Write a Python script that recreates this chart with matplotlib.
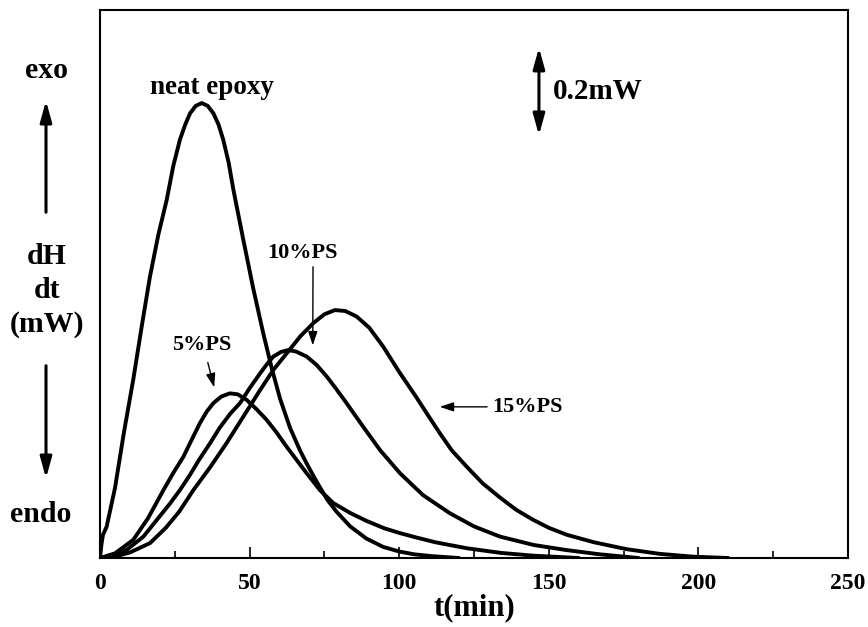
import matplotlib.pyplot as plt
from matplotlib.ticker import MultipleLocator

plt.rcParams['font.family'] = ['Liberation Serif', 'DejaVu Serif']
plt.rcParams['font.weight'] = 'bold'

# heat flow curves (t in min, dH/dt in mW)
t_neat = [0, 0.5, 1, 2.2, 5, 8, 11.1, 14, 16.7, 19.5, 22.3, 24.5, 26.7, 28.5, 30.1, 32, 34, 36,
          37.9, 39.6, 41.2, 43, 44.6, 47.9, 51.2, 54.6, 57.4, 60.2, 63.5, 66.8, 69, 71.3, 73.5,
          76, 79, 83.6, 89, 94.6, 100, 105, 111, 120]
y_neat = [0, 0.03, 0.05, 0.067, 0.15, 0.27, 0.383, 0.5, 0.605, 0.695, 0.77, 0.843, 0.899, 0.932,
          0.956, 0.972, 0.978, 0.972, 0.956, 0.932, 0.899, 0.85, 0.791, 0.684, 0.58, 0.482,
          0.408, 0.342, 0.28, 0.232, 0.204, 0.177, 0.152, 0.125, 0.1, 0.068, 0.042, 0.024,
          0.014, 0.008, 0.004, 0]

t_5 = [0, 5, 11.1, 16, 21.2, 24.5, 27.9, 30.7, 33.4, 35.7, 37.9, 40.5, 43.4, 46, 49, 52.3, 55.7,
       59, 62.4, 65.8, 69.1, 73.5, 78, 83.6, 89, 95, 100, 105.8, 112, 122.6, 134, 145, 160]
y_5 = [0, 0.01, 0.039, 0.085, 0.146, 0.183, 0.218, 0.255, 0.29, 0.315, 0.333, 0.347, 0.354,
       0.352, 0.34, 0.32, 0.297, 0.27, 0.239, 0.21, 0.182, 0.146, 0.118, 0.097, 0.08, 0.064,
       0.054, 0.044, 0.034, 0.021, 0.011, 0.005, 0]

t_10 = [0, 5, 9, 14.5, 20, 23.5, 26.7, 30, 33, 36.8, 40, 43.5, 46.8, 50, 53.5, 55.7, 57.9, 60.5,
        62.9, 65.5, 69.1, 72.4, 75.8, 79, 82.4, 86, 89.1, 93.6, 100.3, 108, 117, 125, 133.7,
        145, 156, 167, 180]
y_10 = [0, 0.005, 0.018, 0.046, 0.09, 0.118, 0.146, 0.178, 0.21, 0.247, 0.28, 0.31, 0.333,
        0.365, 0.397, 0.416, 0.433, 0.443, 0.447, 0.444, 0.433, 0.415, 0.39, 0.363, 0.333, 0.3,
        0.272, 0.232, 0.182, 0.135, 0.096, 0.068, 0.046, 0.028, 0.017, 0.008, 0]

t_15 = [0, 5, 10, 16.7, 22, 26.5, 31.2, 36.8, 42.3, 48, 53.5, 58, 62.4, 67, 71.3, 75, 78.5, 82,
        85.8, 90, 94.7, 100, 105.8, 109, 113.6, 117.5, 122.6, 128, 133.7, 139, 144.8, 150, 156,
        165, 176, 187, 198, 210]
y_15 = [0, 0.003, 0.012, 0.032, 0.065, 0.1, 0.146, 0.195, 0.247, 0.305, 0.361, 0.405, 0.44,
        0.477, 0.505, 0.524, 0.533, 0.531, 0.519, 0.495, 0.454, 0.4, 0.345, 0.313, 0.268, 0.232,
        0.196, 0.16, 0.13, 0.104, 0.082, 0.065, 0.05, 0.034, 0.019, 0.009, 0.003, 0]

xticks = [0, 50, 100, 150, 200, 250]

fig = plt.figure(figsize=(8.68, 6.27), dpi=100)
ax = fig.add_axes([0.1152, 0.110, 0.8618, 0.874])

for t, y in [(t_neat, y_neat), (t_5, y_5), (t_10, y_10), (t_15, y_15)]:
    ax.plot(t, y, color='black', lw=2.8, solid_joinstyle='round', solid_capstyle='round')

ax.set_xlim(0, 250)
ax.set_ylim(0, 1.178)
ax.set_xticks(xticks)
ax.xaxis.set_minor_locator(MultipleLocator(25))
ax.set_yticks([])
ax.tick_params(axis='x', which='major', direction='in', length=8, width=1.2, labelsize=17, pad=11)
ax.tick_params(axis='x', which='minor', direction='in', length=5, width=1.2)
for s in ax.spines.values():
    s.set_linewidth(1.5)
ax.set_xlabel('t(min)', fontsize=22, fontweight='bold', labelpad=-1)

thin = dict(arrowstyle='-|>,head_length=0.6,head_width=0.2', color='black', lw=1,
            mutation_scale=14)
thick = dict(arrowstyle='-|>,head_length=0.9,head_width=0.25', color='black', lw=2.2,
             mutation_scale=14)

# labels on curves
ax.text(37.4, 1.011, 'neat epoxy', ha='center', va='center', fontsize=19.5)
ax.text(67.8, 0.656, '10%PS', ha='center', va='center', fontsize=16)
ax.annotate('', xy=(71.1, 0.451), xytext=(71.2, 0.632), arrowprops=thin)
ax.text(34, 0.458, '5%PS', ha='center', va='center', fontsize=16)
ax.annotate('', xy=(38.4, 0.361), xytext=(35.8, 0.426), arrowprops=thin)
ax.text(131, 0.325, '15%PS', ha='left', va='center', fontsize=16)
ax.annotate('', xy=(112.6, 0.325), xytext=(130.3, 0.325), arrowprops=thin)

# 0.2 mW scale bar
ax.annotate('', xy=(146.7, 1.103), xytext=(146.7, 0.903),
            arrowprops=dict(arrowstyle='<|-|>,head_length=0.9,head_width=0.25', color='black',
                            lw=2.2, mutation_scale=14))
ax.text(151.5, 1.003, '0.2mW', ha='left', va='center', fontsize=21)

# y axis legend at the left
fig.text(47 / 868, 1 - 70 / 627, 'exo', ha='center', va='center', fontsize=21.5)
fig.text(47 / 868, 1 - 257 / 627, 'dH', ha='center', va='center', fontsize=21.5)
fig.text(47 / 868, 1 - 290 / 627, 'dt', ha='center', va='center', fontsize=21.5)
fig.text(47 / 868, 1 - 325 / 627, '(mW)', ha='center', va='center', fontsize=21.5)
fig.text(41 / 868, 1 - 515 / 627, 'endo', ha='center', va='center', fontsize=21.5)
ax.annotate('', xy=(46 / 868, 1 - 98 / 627), xytext=(46 / 868, 1 - 215 / 627),
            xycoords='figure fraction', textcoords='figure fraction', arrowprops=thick)
ax.annotate('', xy=(46 / 868, 1 - 481 / 627), xytext=(46 / 868, 1 - 363 / 627),
            xycoords='figure fraction', textcoords='figure fraction', arrowprops=thick)

fig.savefig('out.png', dpi=100)
